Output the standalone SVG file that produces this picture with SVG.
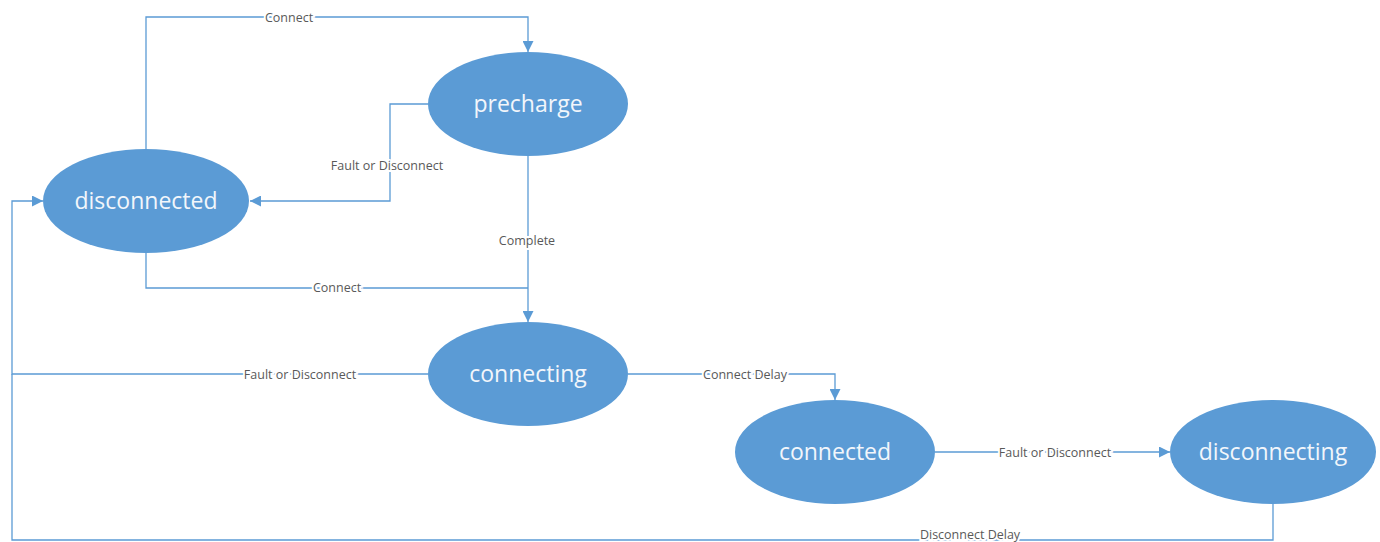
<svg xmlns="http://www.w3.org/2000/svg" width="1380" height="542" viewBox="0 0 1380 542">
<style>
.node{fill:#5b9bd5;}
.nt{font-family:"Open Sans","Liberation Sans",sans-serif;font-size:23px;fill:#f2f6fb;text-anchor:middle;dominant-baseline:central;}
.edge{fill:none;stroke:#5b9bd5;stroke-width:1.3;}
.lbl{font-family:"Open Sans","Liberation Sans",sans-serif;font-size:12.5px;fill:#595959;text-anchor:middle;dominant-baseline:central;stroke:#fff;stroke-width:4;paint-order:stroke;}
</style>
<defs>
<marker id="arr" viewBox="0 0 10 10" refX="10" refY="5" markerWidth="11" markerHeight="11" markerUnits="userSpaceOnUse" orient="auto">
<path d="M0,0 L10,5 L0,10 Z" fill="#5b9bd5"/>
</marker>
</defs>
<rect width="1380" height="542" fill="#fff"/>
<g id="connectors">
<path class="edge" d="M146,149 V17 H528 V52" marker-end="url(#arr)"/>
<path class="edge" d="M428,104 H390 V201 H250" marker-end="url(#arr)"/>
<path class="edge" d="M528,156 V322" marker-end="url(#arr)"/>
<path class="edge" d="M146,253 V288 H528"/>
<path class="edge" d="M428,374 H12 V201 H43" marker-end="url(#arr)"/>
<path class="edge" d="M628,374 H835 V400" marker-end="url(#arr)"/>
<path class="edge" d="M935,452 H1170" marker-end="url(#arr)"/>
<path class="edge" d="M1273,504 V540 H12 V374"/>
<text class="lbl" x="289" y="17">Connect</text>
<text class="lbl" x="387" y="165">Fault or Disconnect</text>
<text class="lbl" x="527" y="240">Complete</text>
<text class="lbl" x="337" y="287">Connect</text>
<text class="lbl" x="300" y="374">Fault or Disconnect</text>
<text class="lbl" x="745" y="374">Connect Delay</text>
<text class="lbl" x="1055" y="452">Fault or Disconnect</text>
<text class="lbl" x="970" y="534">Disconnect Delay</text>
</g>
<g id="disconnected"><ellipse class="node" cx="146" cy="201" rx="103" ry="52"/><text class="nt" x="146" y="200">disconnected</text></g>
<g id="precharge"><ellipse class="node" cx="528" cy="104" rx="100" ry="52"/><text class="nt" x="528" y="103">precharge</text></g>
<g id="connecting"><ellipse class="node" cx="528" cy="374" rx="100" ry="52"/><text class="nt" x="528" y="373">connecting</text></g>
<g id="connected"><ellipse class="node" cx="835" cy="452" rx="100" ry="52"/><text class="nt" x="835" y="451">connected</text></g>
<g id="disconnecting"><ellipse class="node" cx="1273" cy="452" rx="103" ry="52"/><text class="nt" x="1273" y="451">disconnecting</text></g>
</svg>
